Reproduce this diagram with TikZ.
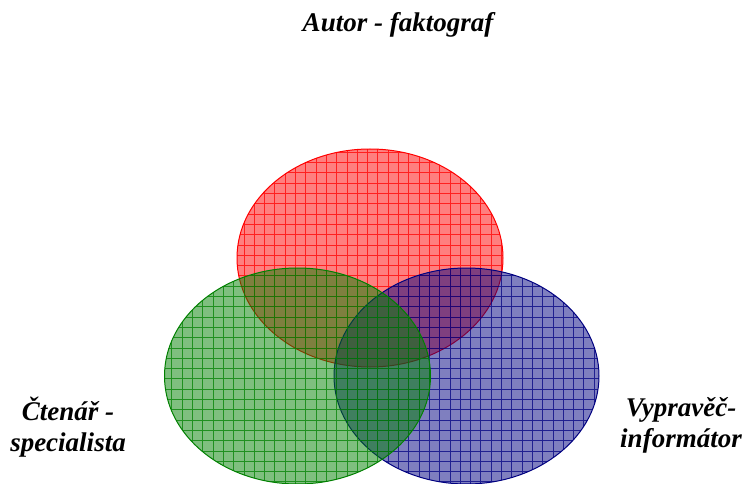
\documentclass[tikz,border=0pt]{standalone}
\usepackage{fontspec}
\setmainfont{Liberation Serif}
\usetikzlibrary{positioning}
\definecolor{autorred}{RGB}{255,0,0}
\definecolor{ctenargreen}{RGB}{0,128,0}
\definecolor{vypravecblue}{RGB}{0,0,128}
\newcommand{\gridellipse}[5]{%
\begin{scope}
\clip (#1) ellipse [x radius=#2, y radius=#3];
\fill[#4, fill opacity=0.5] (#1) ellipse [x radius=#2, y radius=#3];
\draw[#4, line width=0.8pt, opacity=0.75, shift={(7,-8)}] (-20,-500) grid[step=10.3pt] (760,10);
\end{scope}
\draw[#4, line width=1pt] (#1) ellipse [x radius=#2, y radius=#3];
\coordinate (#5) at (#1);}
\begin{document}
\begin{tikzpicture}[x=1pt, y=1pt,
  lbl/.style={font=\fontsize{27}{30.5}\selectfont\bfseries\itshape, align=center, inner sep=0pt, anchor=base}]
\useasboundingbox (0,0) rectangle (745,-484);
\gridellipse{370,-258}{133pt}{109pt}{autorred}{autorcirc}
\gridellipse{466.5,-376}{132.5pt}{108pt}{vypravecblue}{vypraveccirc}
\gridellipse{297.5,-376}{133pt}{108pt}{ctenargreen}{ctenarcirc}
\node[lbl] (autor) at (398,-32) {Autor - faktograf};
\node[lbl] (ctenar) at (68,-451) {Čtenář -\\specialista};
\node[lbl] (vypravec) at (681,-447) {Vypravěč-\\informátor};
\end{tikzpicture}
\end{document}
